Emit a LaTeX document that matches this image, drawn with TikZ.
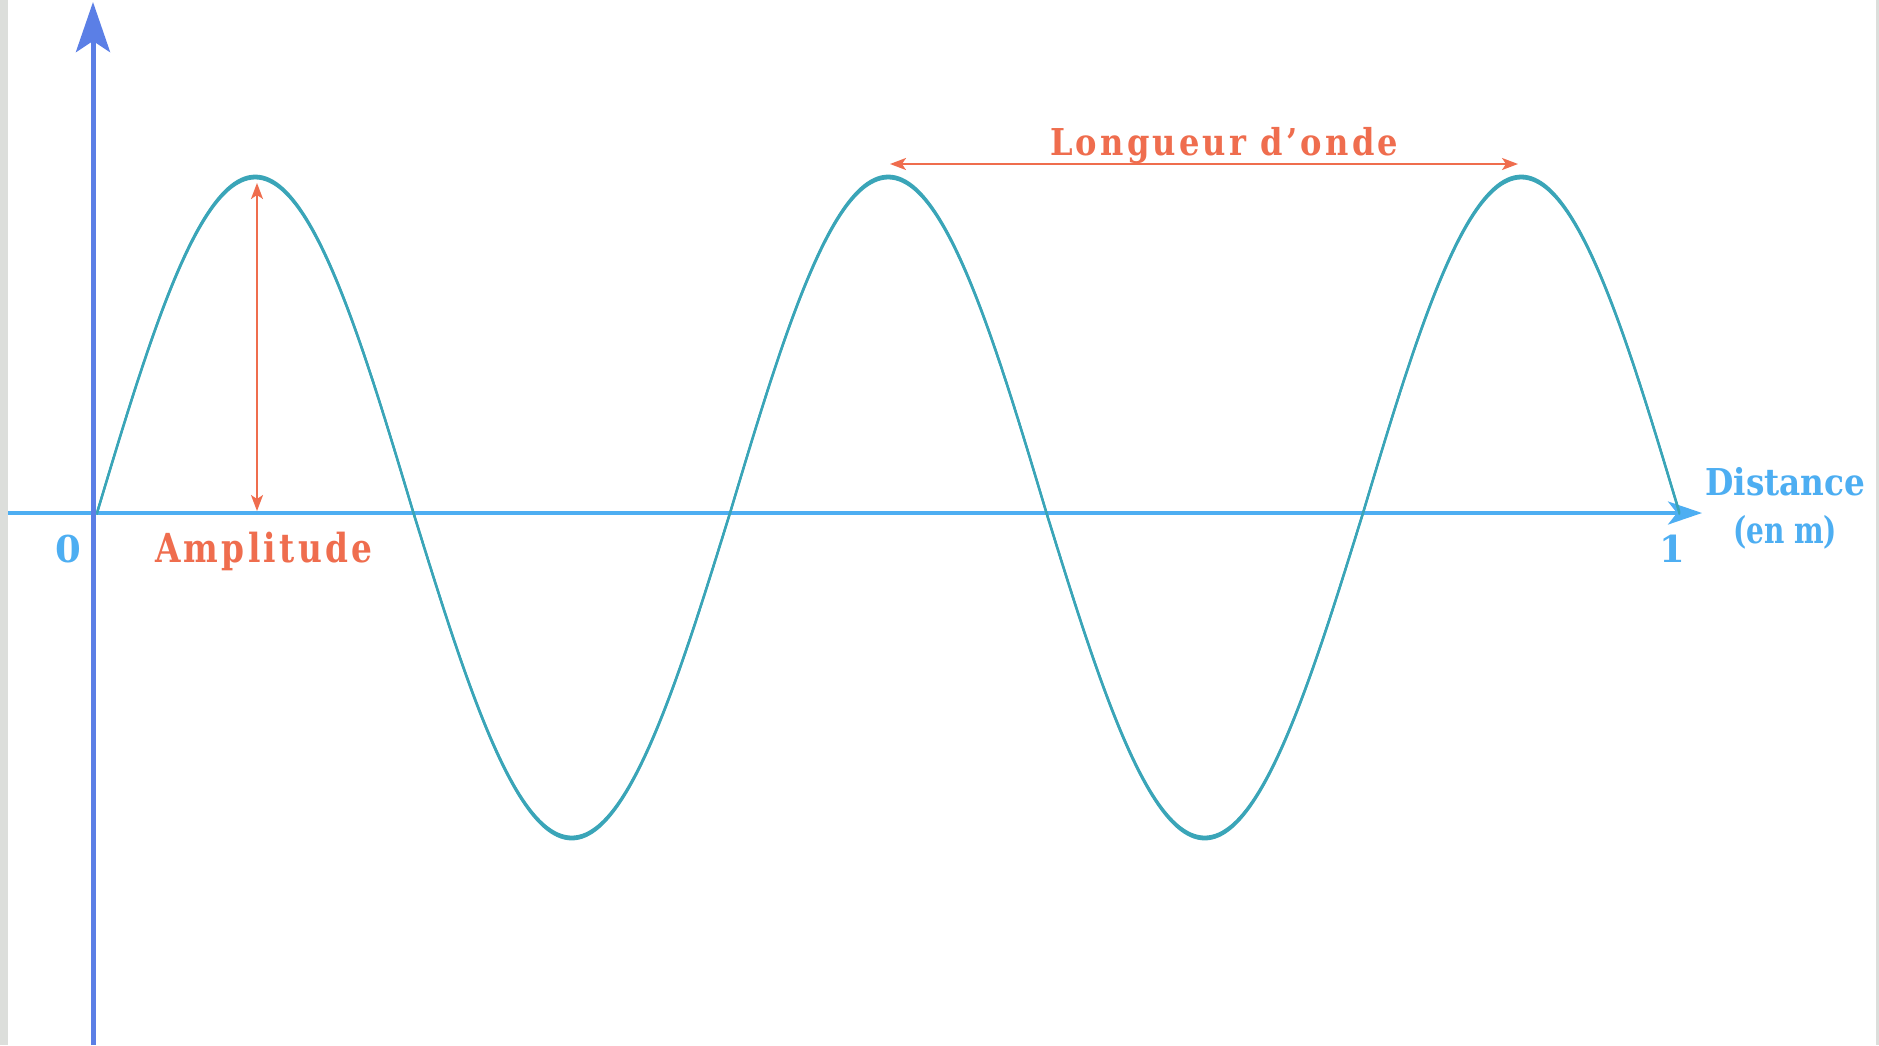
\documentclass[tikz,border=0pt]{standalone}
\usepackage{fontspec}
\usetikzlibrary{arrows.meta}
\newfontfamily\labfont{DejaVu Serif}
\newfontfamily\labspfont[LetterSpace=10]{DejaVu Serif}
\definecolor{wavec}{HTML}{3AA5B8}
\definecolor{yaxc}{HTML}{5B7FE6}
\definecolor{xaxc}{HTML}{4DAEF2}
\definecolor{redc}{HTML}{EF6D4E}
\definecolor{edgec}{HTML}{DCDEDB}
\tikzset{
  redarrow/.style={draw=redc, line width=2pt, {Stealth[length=16pt,width=12pt,inset=4pt]}-{Stealth[length=16pt,width=12pt,inset=4pt]}},
  wavestroke/.style={draw=wavec, line width=1.6pt, line join=round},
  bluelab/.style={text=xaxc, inner sep=0pt},
  redlab/.style={text=redc, inner sep=0pt, anchor=base west}
}
\begin{document}
\begin{tikzpicture}[x=1pt,y=-1pt]
\useasboundingbox (0,0) rectangle (1879,1045);
\fill[white] (0,0) rectangle (1879,1045);
\fill[edgec] (0,0) rectangle (8,1045);
\fill[edgec] (1876,0) rectangle (1879,1045);
% coordinates
\coordinate (xstart) at (8,513);
\coordinate (xend) at (1702,513);
\coordinate (ybot) at (93,1045);
\coordinate (ytop) at (93,2);
\coordinate (ampTop) at (257,183);
\coordinate (ampBot) at (257,511);
\coordinate (wlL) at (890,164);
\coordinate (wlR) at (1518,164);
% x axis
\draw[xaxc, line width=3.5pt, -{Stealth[length=34pt,width=23pt,inset=9pt]}] (xstart) -- (xend);
% wave
\foreach \dy in {-1.6,-0.8,0,0.8,1.6}{
\draw[wavestroke] plot[domain=0:900, samples=451, smooth]
  ({97 + \x/360*633}, {513 + \dy - sin(\x)*ifthenelse(sin(\x)>0,336,325)});
}
% y axis
\draw[yaxc, line width=5pt, -{Stealth[length=50pt,width=34pt,inset=11pt]}] (ybot) -- (ytop);
% red arrows
\draw[redarrow] (ampBot) -- (ampTop);
\draw[redarrow] (wlL) -- (wlR);
% labels
\node[redlab] (amp) at (155,562) {\resizebox{217pt}{\height}{\labspfont\bfseries\fontsize{40}{40}\selectfont Amplitude}};
\node[redlab] (wl) at (1050,155) {\resizebox{348pt}{\height}{\labspfont\bfseries\fontsize{37}{37}\selectfont Longueur d’onde}};
\node[bluelab, anchor=base west] (dist) at (1705,495) {\resizebox{160pt}{\height}{\labfont\bfseries\fontsize{37}{37}\selectfont Distance}};
\node[bluelab, anchor=base west] (unit) at (1733,543) {\resizebox{104pt}{\height}{\labfont\bfseries\fontsize{37}{37}\selectfont (en m)}};
\node[bluelab, anchor=base] (zero) at (68,562) {\labfont\bfseries\fontsize{37}{37}\selectfont 0};
\node[bluelab, anchor=base] (one) at (1672,562) {\labfont\bfseries\fontsize{37}{37}\selectfont 1};
\end{tikzpicture}
\end{document}
